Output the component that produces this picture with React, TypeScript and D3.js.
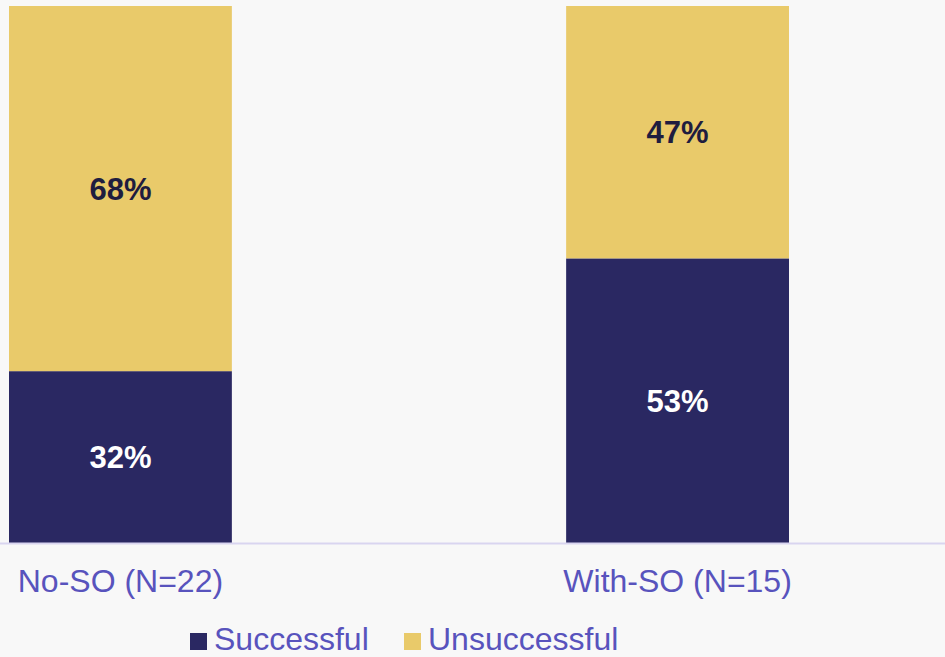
import React from 'react';
import * as d3 from 'd3';

const categories = ['No-SO (N=22)', 'With-SO (N=15)'];
const successful = [32, 53];
const unsuccessful = [68, 47];
const seriesNames = ['Successful', 'Unsuccessful'];
const colors = ['#2a2862', '#e9ca6a'];
const labelColors = ['#ffffff', '#1f1d3f'];

const W = 945;
const H = 657;

const App = () => {
  if (typeof document !== 'undefined') document.body.style.margin = '0';

  const x = d3.scaleBand<string>().domain(categories).range([9, 789]).paddingInner(0.6).paddingOuter(0);
  const y = d3.scaleLinear().domain([0, 100]).range([543, 6]);

  const rows = categories.map((c, i) => ({ cat: c, Successful: successful[i], Unsuccessful: unsuccessful[i] }));
  const stacked = d3.stack<any>().keys(seriesNames)(rows);

  return (
    <svg width={W} height={H} style={{ display: 'block', background: '#f8f8f8' }}>
      <rect width={W} height={H} fill="#f8f8f8" />
      {stacked.map((s, si) => (
        <g key={s.key}>
          {s.map((d, i) => (
            <g key={i}>
              <rect
                x={x(categories[i])}
                y={y(d[1])}
                width={x.bandwidth()}
                height={y(d[0]) - y(d[1])}
                fill={colors[si]}
              />
              <text
                x={(x(categories[i]) as number) + x.bandwidth() / 2}
                y={(y(d[0]) + y(d[1])) / 2}
                dy="0.36em"
                textAnchor="middle"
                fontFamily="Liberation Sans, Arial, sans-serif"
                fontWeight="bold"
                fontSize={31}
                fill={labelColors[si]}
              >
                {d[1] - d[0]}%
              </text>
            </g>
          ))}
        </g>
      ))}
      <line x1={0} x2={W} y1={543.5} y2={543.5} stroke="#d9d5f0" strokeWidth={2} />
      {categories.map((c) => (
        <text
          key={c}
          x={(x(c) as number) + x.bandwidth() / 2}
          y={592}
          textAnchor="middle"
          fontFamily="Liberation Sans, Arial, sans-serif"
          fontSize={32}
          fill="#5853bd"
        >
          {c}
        </text>
      ))}
      {seriesNames.map((n, i) => {
        const lx = [190, 404][i];
        return (
          <g key={n}>
            <rect x={lx} y={633} width={17} height={17} fill={colors[i]} />
            <text
              x={lx + 24}
              y={650}
              fontFamily="Liberation Sans, Arial, sans-serif"
              fontSize={32}
              fill="#5853bd"
            >
              {n}
            </text>
          </g>
        );
      })}
    </svg>
  );
};

export default App;
